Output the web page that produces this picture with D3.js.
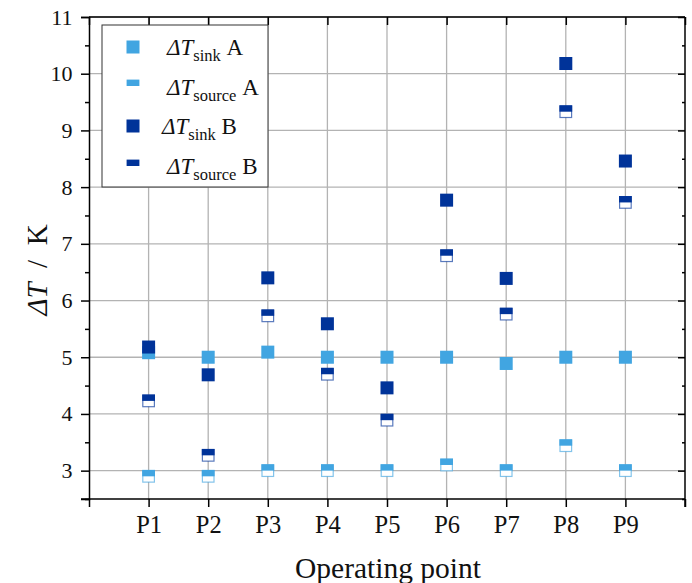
<!DOCTYPE html>
<html>
<head>
<meta charset="utf-8">
<script src="https://cdn.jsdelivr.net/npm/d3@7/dist/d3.min.js"></script>
<style>
  html, body { margin: 0; padding: 0; background: #fff; }
  svg { display: block; }
  svg text { font-family: "Liberation Serif", "Times New Roman", serif; }
</style>
</head>
<body>
<svg id="chart" width="692" height="583"></svg>
<script>
// Operating points and temperature differences (K)
const points = ["P1", "P2", "P3", "P4", "P5", "P6", "P7", "P8", "P9"];
const sinkA   = [5.08, 5.0, 5.09, 5.0, 5.0, 5.0, 4.89, 5.0, 5.0];
const sourceA = [2.9, 2.9, 3.0, 3.0, 3.0, 3.1, 3.0, 3.44, 3.0];
const sinkB   = [5.18, 4.69, 6.4, 5.59, 4.46, 7.77, 6.39, 10.18, 8.46];
const sourceB = [4.23, 3.27, 5.73, 4.7, 3.89, 6.79, 5.76, 9.33, 7.73];
const yTicks  = [3, 4, 5, 6, 7, 8, 9, 10, 11];
const yMinor  = [2.5, 3.5, 4.5, 5.5, 6.5, 7.5, 8.5, 9.5, 10.5];

const colA = "#41a5e1";
const colB = "#003399";
const serif = '"Liberation Serif", "Times New Roman", serif';

const svg = d3.select("#chart");
const plotL = 89, plotR = 685, plotT = 17, plotB = 499;

const x = d3.scaleLinear().domain([0, points.length + 1]).range([plotL, plotR]);
const y = d3.scaleLinear().domain([2.5, 11]).range([plotB, plotT]);
const xPos = i => x(i + 1);

// grid
const grid = svg.append("g").attr("stroke", "#b3b3b3").attr("stroke-width", 1.3);
grid.selectAll("line.h").data(yTicks).join("line")
  .attr("x1", plotL).attr("x2", plotR)
  .attr("y1", d => y(d)).attr("y2", d => y(d));
grid.selectAll("line.v").data(points).join("line")
  .attr("x1", (d, i) => xPos(i)).attr("x2", (d, i) => xPos(i))
  .attr("y1", plotT).attr("y2", plotB);

// axes
const xTickVals = d3.range(0, points.length + 2);
const xAxis = d3.axisBottom(x).tickValues(xTickVals).tickSize(8)
  .tickFormat(d => (d >= 1 && d <= points.length) ? points[d - 1] : "");
const gx = svg.append("g").attr("transform", `translate(0,${plotB})`).call(xAxis)
  .attr("font-family", serif).attr("font-size", 24.5);
gx.select(".domain").attr("d", `M${plotL - 8},0H${plotR}`);
gx.selectAll("text").attr("dy", "0.95em").attr("fill", "#111");

const yAxis = d3.axisLeft(y).tickValues(yTicks).tickSize(8).tickFormat(d3.format("d"));
const gy = svg.append("g").attr("transform", `translate(${plotL},0)`).call(yAxis)
  .attr("font-family", serif).attr("font-size", 22);
gy.selectAll("text").attr("dx", "-0.25em").attr("fill", "#111");
svg.append("g").attr("transform", `translate(${plotL},0)`)
  .call(d3.axisLeft(y).tickValues(yMinor).tickSize(4).tickFormat(""))
  .select(".domain").remove();

// mirrored frame: top and right with inward ticks
svg.append("g").attr("transform", `translate(0,${plotT})`)
  .call(d3.axisBottom(x).tickValues(xTickVals).tickSize(8).tickFormat(""))
  .select(".domain").attr("d", `M${plotL},0H${plotR}`);
const gr = svg.append("g").attr("transform", `translate(${plotR},0)`)
  .call(d3.axisLeft(y).tickValues(yTicks).tickSize(7).tickFormat(""));
gr.select(".domain").attr("d", `M0,${plotT}V${plotB + 8}`);
svg.append("g").attr("transform", `translate(${plotR},0)`)
  .call(d3.axisLeft(y).tickValues(yMinor).tickSize(3).tickFormat(""))
  .select(".domain").remove();
svg.selectAll(".domain, .tick line").attr("stroke", "#000").attr("stroke-width", 1.5);

// markers
const S = 13;
function sinkMarks(vals, col) {
  svg.append("g").selectAll("rect").data(vals).join("rect")
    .attr("x", (d, i) => xPos(i) - S / 2).attr("y", d => y(d) - S / 2)
    .attr("width", S).attr("height", S).attr("fill", col);
}
function sourceMarks(vals, col) {
  const g = svg.append("g").selectAll("g").data(vals).join("g")
    .attr("transform", (d, i) => `translate(${xPos(i)},${y(d)})`);
  g.append("rect").attr("x", -5.8).attr("y", -5.8).attr("width", 11.6).attr("height", 11.6)
    .attr("fill", "#fff").attr("stroke", col).attr("stroke-opacity", 0.65).attr("stroke-width", 1.2);
  g.append("rect").attr("x", -6.4).attr("y", -6.4).attr("width", 12.8).attr("height", 6.4)
    .attr("fill", col);
}
sinkMarks(sinkA, colA);
sourceMarks(sourceA, colA);
sinkMarks(sinkB, colB);
sourceMarks(sourceB, colB);

// legend
const lg = svg.append("g");
lg.append("rect").attr("x", 102).attr("y", 25).attr("width", 166).attr("height", 162)
  .attr("fill", "#fff").attr("stroke", "#333").attr("stroke-width", 1);
const legendItems = [
  { sub: "sink", name: "A", col: colA, half: false, cy: 47, base: 55, tx: 167 },
  { sub: "source", name: "A", col: colA, half: true, cy: 86, base: 95, tx: 167 },
  { sub: "sink", name: "B", col: colB, half: false, cy: 126, base: 134, tx: 162 },
  { sub: "source", name: "B", col: colB, half: true, cy: 166, base: 174, tx: 167 }
];
legendItems.forEach(it => {
  if (it.half) {
    lg.append("rect").attr("x", 133 - 6.4).attr("y", it.cy - 6.4).attr("width", 12.8).attr("height", 6.4).attr("fill", it.col);
  } else {
    lg.append("rect").attr("x", 133 - S / 2).attr("y", it.cy - S / 2).attr("width", S).attr("height", S).attr("fill", it.col);
  }
  const t = lg.append("text").attr("x", it.tx).attr("y", it.base).attr("font-size", 23).attr("fill", "#111");
  t.append("tspan").attr("font-style", "italic").text("ΔT");
  t.append("tspan").attr("font-size", 16.5).attr("dy", 6).text(it.sub);
  t.append("tspan").attr("dy", -6).text("\u00a0" + it.name);
});

// axis titles
svg.append("text").attr("x", 388).attr("y", 578).attr("text-anchor", "middle")
  .attr("font-size", 29.5).attr("fill", "#111").text("Operating point");
const yl = svg.append("text").attr("transform", "translate(47,270) rotate(-90)")
  .attr("text-anchor", "middle").attr("font-size", 29).attr("fill", "#111");
yl.append("tspan").attr("font-style", "italic").text("ΔT");
yl.append("tspan").text("\u00a0\u00a0/\u00a0\u00a0K");
</script>
</body>
</html>
